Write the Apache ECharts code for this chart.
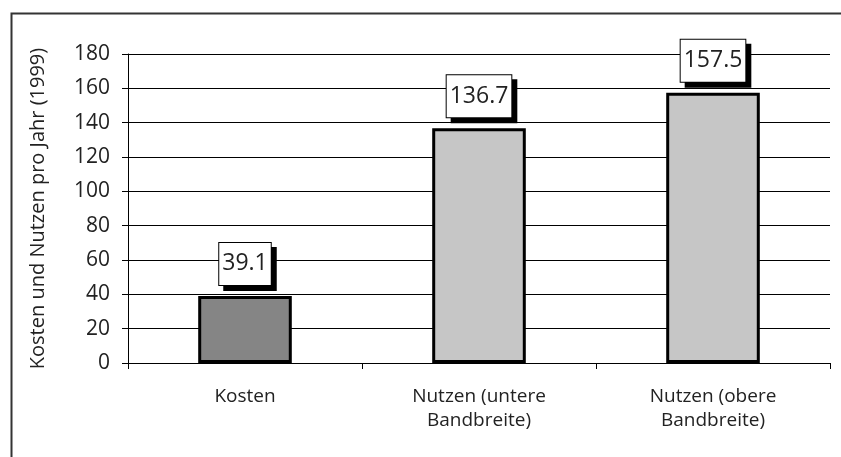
<!DOCTYPE html>
<html><head><meta charset="utf-8">
<script src="https://cdn.jsdelivr.net/npm/echarts@6/dist/echarts.min.js"></script>
<style>html,body{margin:0;padding:0;background:#fff}#c{width:841px;height:457px}</style>
</head><body><div id="c"></div>
<script>
const categories = ['Kosten', 'Nutzen (untere\nBandbreite)', 'Nutzen (obere\nBandbreite)'];
const values = [39.1, 136.7, 157.5];
const barColors = ['#858585', '#c6c6c6', '#c6c6c6'];
const yTicks = [0, 20, 40, 60, 80, 100, 120, 140, 160, 180];

const chart = echarts.init(document.getElementById('c'), null, {renderer: 'canvas'});
const font = '"Open Sans", "Noto Sans", sans-serif';
chart.setOption({
  animation: false,
  backgroundColor: '#fff',
  textStyle: {fontFamily: font},
  graphic: [{
    type: 'rect', left: 9, top: 11, shape: {width: 900, height: 500},
    style: {fill: 'none', stroke: '#333', lineWidth: 2}, silent: true
  }],
  grid: {left: 128, right: 11, top: 54, bottom: 94},
  xAxis: {
    type: 'category', data: categories,
    axisLine: {lineStyle: {color: '#000', width: 1}},
    axisTick: {show: true, length: 6, lineStyle: {color: '#000'}},
    axisLabel: {color: '#222', fontSize: 19, lineHeight: 24, margin: 22, fontFamily: font}
  },
  yAxis: {
    type: 'value', min: yTicks[0], max: yTicks[yTicks.length - 1], interval: 20,
    name: 'Kosten und Nutzen pro Jahr (1999)', nameLocation: 'middle', nameGap: 80,
    nameTextStyle: {color: '#222', fontSize: 20, fontFamily: font},
    axisLine: {show: true, lineStyle: {color: '#000'}},
    axisTick: {show: true, length: 6, inside: false, lineStyle: {color: '#000'}},
    axisLabel: {color: '#222', fontSize: 21, margin: 18, fontFamily: font},
    splitLine: {show: true, lineStyle: {color: '#000', width: 1}}
  },
  series: [{
    type: 'bar', barWidth: '40%',
    data: values.map((v, i) => ({value: v, itemStyle: {color: barColors[i]}})),
    itemStyle: {borderColor: '#000', borderWidth: 3},
    label: {
      show: true, position: 'top', distance: 11,
      formatter: p => p.value.toFixed(1),
      fontSize: 23, lineHeight: 28, color: '#222', fontFamily: font,
      backgroundColor: '#fff', borderColor: '#000', borderWidth: 1,
      padding: [7, 3, 7, 3],
      shadowColor: '#000', shadowOffsetX: 5, shadowOffsetY: 5, shadowBlur: 0.01
    }
  }]
});
</script></body></html>
